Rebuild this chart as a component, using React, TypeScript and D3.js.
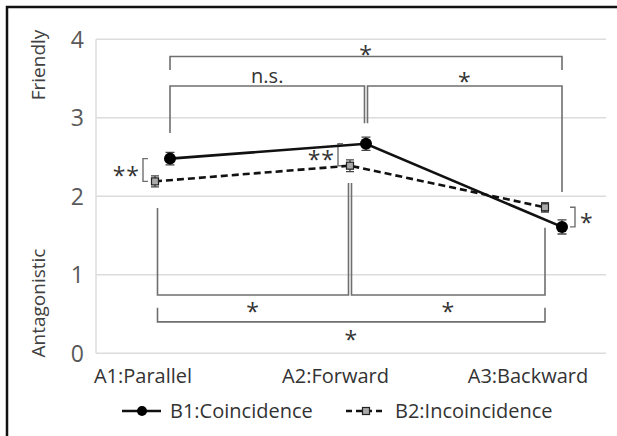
import React from "react";
import * as d3 from "d3";

const categories = ["A1:Parallel", "A2:Forward", "A3:Backward"];
const seriesNames = ["B1:Coincidence", "B2:Incoincidence"];
const b1Means = [2.48, 2.67, 1.61];
const b1Errors = [0.08, 0.085, 0.09];
const b2Means = [2.19, 2.39, 1.86];
const b2Errors = [0.07, 0.075, 0.06];
const yTicks = [0, 1, 2, 3, 4];

// between-category comparisons for B1 (above) : [fromIdx, toIdx, barY, endY1, endY2, label, labelY]
const b1Brackets: [number, number, number, number, number, string, number][] = [
  [0, 2, 3.78, 3.61, 3.61, "*", 3.88],
  [0, 1, 3.405, 2.806, 2.93, "n.s.", 3.53],
  [1, 2, 3.405, 2.93, 2.055, "*", 3.53],
];
// between-category comparisons for B2 (below)
const b2Brackets: [number, number, number, number, number, string, number][] = [
  [0, 1, 0.743, 1.85, 2.17, "*", 0.6],
  [1, 2, 0.743, 2.17, 1.6, "*", 0.6],
  [0, 2, 0.4, 0.58, 0.58, "*", 0.24],
];
// within-category comparisons B1 vs B2
const withinLabels = ["**", "**", "*"];

const W = 617;
const H = 436;
const FONT = "'Open Sans', 'Noto Sans', sans-serif";

export default function App() {
  const y = d3.scaleLinear().domain([0, 4]).range([353.3, 39.3]);
  const xB1 = d3.scalePoint<string>().domain(categories).range([170, 562]);
  const xB2 = d3.scalePoint<string>().domain(categories).range([155, 545]);
  const xLab = d3.scalePoint<string>().domain(categories).range([143, 528]);
  const plotL = 96;
  const plotR = 606;

  const toPath = d3
    .line<[number, number]>()
    .x((d) => d[0])
    .y((d) => d[1]);
  const b1Path = toPath(b1Means.map((v, i) => [xB1(categories[i])!, y(v)]));
  const b2Path = toPath(b2Means.map((v, i) => [xB2(categories[i])!, y(v)]));

  const bracketColor = "#6f6f6f";
  const bracketPath = (x1: number, x2: number, bar: number, e1: number, e2: number) =>
    `M${x1},${y(e1)}V${y(bar)}H${x2}V${y(e2)}`;

  const starLabel = (lab: string, x: number, yy: number, anchor: string, key: string) =>
    lab === "n.s." ? (
      <text key={key} x={x} y={yy} dy="0.35em" textAnchor={anchor} fontSize={20} fill="#333">
        {lab}
      </text>
    ) : (
      <text key={key} x={x} y={yy} dy="0.6em" textAnchor={anchor} fontSize={23} fill="#333" letterSpacing={1}>
        {lab}
      </text>
    );

  return (
    <svg
      width={W}
      height={H}
      style={{ position: "absolute", left: 0, top: 0, background: "#fff" }}
      fontFamily={FONT}
    >
      <rect x={0} y={0} width={W} height={H} fill="#fff" />
      {/* frame */}
      <path d={`M7,${H}V7H${W}`} fill="none" stroke="#111" strokeWidth={2.5} />

      {/* gridlines */}
      {yTicks.map((t) => (
        <line key={t} x1={plotL} x2={plotR} y1={y(t)} y2={y(t)} stroke="#dcdcdc" strokeWidth={1.5} />
      ))}
      <line x1={plotL} x2={plotL} y1={y(4)} y2={y(0)} stroke="#dcdcdc" strokeWidth={1.5} />

      {/* y tick labels */}
      {yTicks.map((t) => (
        <text key={t} x={84} y={y(t)} dy="0.36em" textAnchor="end" fontSize={23} fill="#595959">
          {t}
        </text>
      ))}

      {/* axis titles */}
      <text transform={`translate(45,65) rotate(-90)`} textAnchor="middle" fontSize={19} fill="#404040">
        Friendly
      </text>
      <text transform={`translate(45,303) rotate(-90)`} textAnchor="middle" fontSize={19} fill="#404040">
        Antagonistic
      </text>

      {/* category labels */}
      {categories.map((c) => (
        <text key={c} x={xLab(c)} y={383} textAnchor="middle" fontSize={20} fill="#333">
          {c}
        </text>
      ))}

      {/* B1 brackets (above) */}
      {b1Brackets.map(([a, b, bar, e1, e2, lab, ly], i) => {
        const x1 = xB1(categories[a])! + (a === 1 ? 1.5 : 0);
        const x2 = xB1(categories[b])! - (b === 1 ? 1.5 : 0);
        return (
          <g key={"b1" + i}>
            <path d={bracketPath(x1, x2, bar, e1, e2)} fill="none" stroke={bracketColor} strokeWidth={1.6} />
            {starLabel(lab, (x1 + x2) / 2, y(ly), "middle", "t")}
          </g>
        );
      })}

      {/* B2 brackets (below) */}
      {b2Brackets.map(([a, b, bar, e1, e2, lab, ly], i) => {
        const x1 = xB2(categories[a])! + (a === 1 ? 1.5 : 2.5);
        const x2 = xB2(categories[b])! - (b === 1 ? 1.5 : 0);
        return (
          <g key={"b2" + i}>
            <path d={bracketPath(x1, x2, bar, e1, e2)} fill="none" stroke={bracketColor} strokeWidth={1.6} />
            {starLabel(lab, (x1 + x2) / 2, y(ly), "middle", "t")}
          </g>
        );
      })}

      {/* within-category brackets */}
      {categories.map((c, i) => {
        const top = y(b1Means[i]);
        const bot = y(b2Means[i]);
        const yTop = Math.min(top, bot);
        const yBot = Math.max(top, bot);
        if (i < 2) {
          const bx = xB2(c)! - 12;
          return (
            <g key={"w" + i}>
              <path d={`M${bx + 5},${yTop}H${bx}V${yBot}H${bx + 5}`} fill="none" stroke={bracketColor} strokeWidth={1.4} />
              {starLabel(withinLabels[i], bx - 3, (yTop + yBot) / 2, "end", "t")}
            </g>
          );
        }
        const bx = xB1(c)! + 13;
        return (
          <g key={"w" + i}>
            <path d={`M${bx - 5},${yTop}H${bx}V${yBot}H${bx - 5}`} fill="none" stroke={bracketColor} strokeWidth={1.4} />
            {starLabel(withinLabels[i], bx + 5, (yTop + yBot) / 2, "start", "t")}
          </g>
        );
      })}

      {/* series lines */}
      <path d={b2Path!} fill="none" stroke="#111" strokeWidth={2.6} strokeDasharray="7,4" />
      <path d={b1Path!} fill="none" stroke="#111" strokeWidth={2.6} />

      {/* error bars + markers B2 */}
      {b2Means.map((v, i) => {
        const cx = xB2(categories[i])!;
        const e = b2Errors[i];
        return (
          <g key={"m2" + i}>
            <path
              d={`M${cx},${y(v + e)}V${y(v - e)}M${cx - 4},${y(v + e)}H${cx + 4}M${cx - 4},${y(v - e)}H${cx + 4}`}
              stroke="#444"
              strokeWidth={1.3}
            />
            <rect x={cx - 3.5} y={y(v) - 3.5} width={7} height={7} fill="#aaa" stroke="#222" strokeWidth={1.2} />
          </g>
        );
      })}
      {/* error bars + markers B1 */}
      {b1Means.map((v, i) => {
        const cx = xB1(categories[i])!;
        const e = b1Errors[i];
        return (
          <g key={"m1" + i}>
            <path
              d={`M${cx},${y(v + e)}V${y(v - e)}M${cx - 4.5},${y(v + e)}H${cx + 4.5}M${cx - 4.5},${y(v - e)}H${cx + 4.5}`}
              stroke="#444"
              strokeWidth={1.3}
            />
            <circle cx={cx} cy={y(v)} r={6} fill="#000" />
          </g>
        );
      })}

      {/* legend */}
      <g>
        <line x1={122} x2={161} y1={411} y2={411} stroke="#111" strokeWidth={2.6} />
        <circle cx={142} cy={411} r={5} fill="#000" />
        <text x={170} y={418} fontSize={20} fill="#333">
          {seriesNames[0]}
        </text>
        <line x1={346} x2={384} y1={411} y2={411} stroke="#111" strokeWidth={2.6} strokeDasharray="6,4" />
        <rect x={362.5} y={407.5} width={7} height={7} fill="#aaa" stroke="#222" strokeWidth={1.2} />
        <text x={395} y={418} fontSize={20} fill="#333">
          {seriesNames[1]}
        </text>
      </g>
    </svg>
  );
}
